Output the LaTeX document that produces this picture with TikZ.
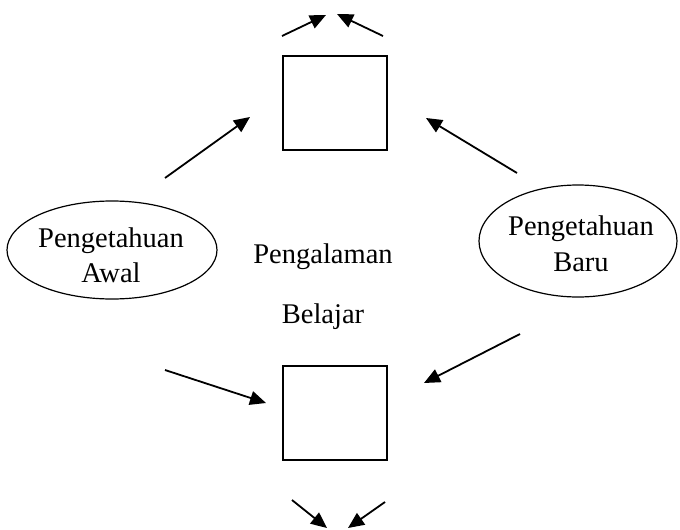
\documentclass[tikz,border=0pt]{standalone}
\usepackage{fontspec}
\setmainfont{Liberation Serif}
\usetikzlibrary{arrows.meta,shapes.geometric}
\begin{document}
\begin{tikzpicture}[x=1pt,y=-1pt,
  arr/.style={line width=1.8pt,-{Triangle[length=16pt,width=14pt]}},
  boxn/.style={draw,line width=1.6pt,minimum width=104pt,minimum height=94pt,inner sep=0pt},
  ell/.style={draw,line width=1.2pt,ellipse,inner sep=0pt},
  txt/.style={font=\fontsize{28.5}{33}\selectfont,align=center,inner sep=0pt}]
\useasboundingbox (0,0) rectangle (680,530);
\fill[white] (0,0) rectangle (680,530);
% boxes
\node[boxn] (top) at (335,103) {};
\node[boxn] (bot) at (335,413) {};
% ellipses
\node[ell,minimum width=210pt,minimum height=98pt] (left) at (112,250) {};
\node[ell,minimum width=198pt,minimum height=112pt] (right) at (578,241) {};
\node[txt] (lt1) at (111,241) {Pengetahuan};
\node[txt] (lt2) at (111,273) {Awal};
\node[txt] (rt1) at (581,229) {Pengetahuan};
\node[txt] (rt2) at (581,262) {Baru};
\node[txt] (m1) at (323,257) {Pengalaman};
\node[txt] (m2) at (323,317) {Belajar};
% arrow end points
\coordinate (a1s) at (282,36); \coordinate (a1e) at (326,15);
\coordinate (a2s) at (383,36); \coordinate (a2e) at (337,14);
\coordinate (a3s) at (165,178); \coordinate (a3e) at (250,117);
\coordinate (a4s) at (517,173); \coordinate (a4e) at (426,118);
\coordinate (a5s) at (165,370); \coordinate (a5e) at (266,403);
\coordinate (a6s) at (520,334); \coordinate (a6e) at (424,383);
\coordinate (a7s) at (292,500); \coordinate (a7e) at (327,528);
\coordinate (a8s) at (385,502); \coordinate (a8e) at (348,528);
\draw[arr] (a1s) -- (a1e);
\draw[arr] (a2s) -- (a2e);
\draw[arr] (a3s) -- (a3e);
\draw[arr] (a4s) -- (a4e);
\draw[arr] (a5s) -- (a5e);
\draw[arr] (a6s) -- (a6e);
\draw[arr] (a7s) -- (a7e);
\draw[arr] (a8s) -- (a8e);
\end{tikzpicture}
\end{document}
